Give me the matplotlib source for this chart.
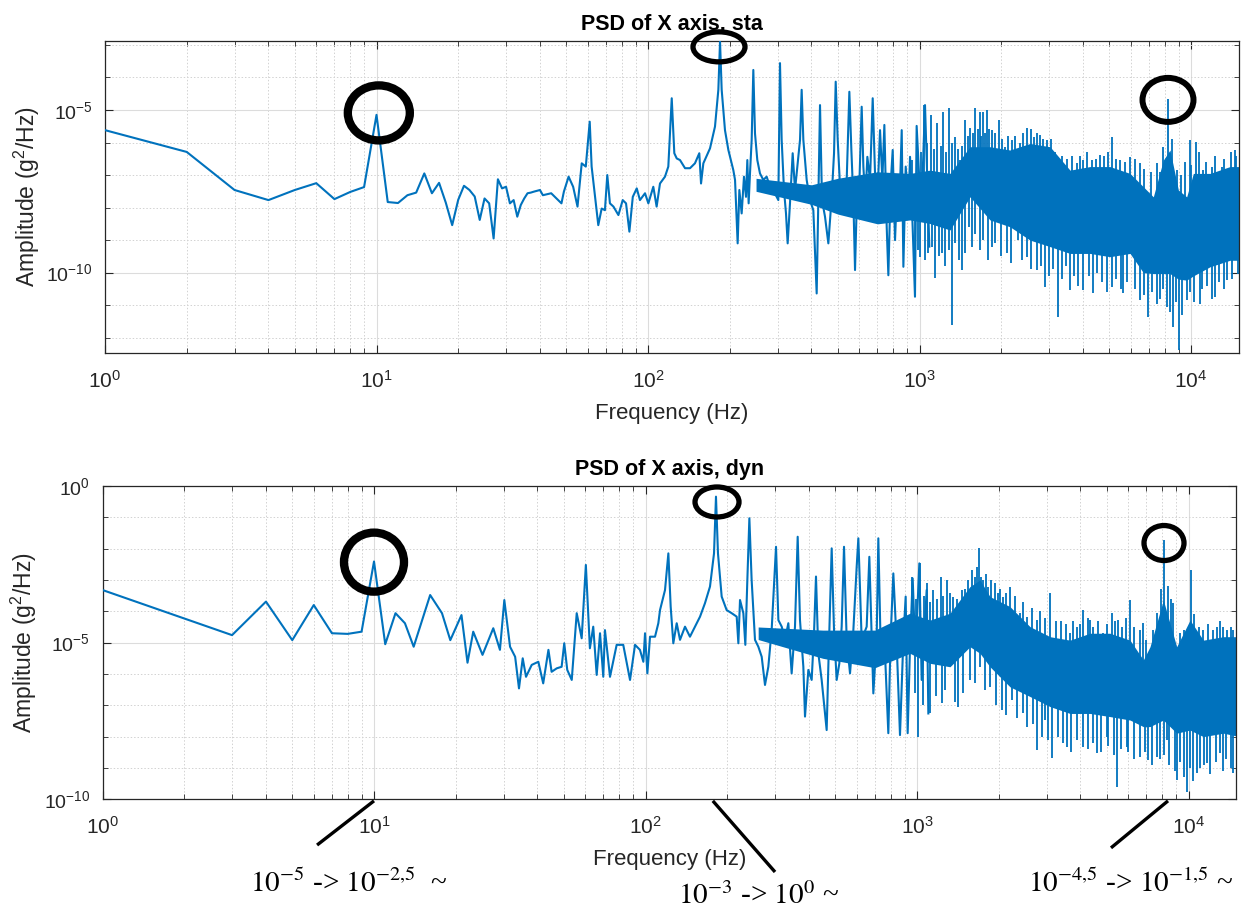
import numpy as np
import matplotlib.pyplot as plt
from matplotlib.patches import Ellipse
from matplotlib import transforms

plt.rcParams['font.family'] = 'Liberation Sans'
plt.rcParams['mathtext.fontset'] = 'custom'
plt.rcParams['mathtext.rm'] = 'Liberation Sans'
plt.rcParams['mathtext.it'] = 'Liberation Sans:italic'
plt.rcParams['mathtext.bf'] = 'Liberation Sans:bold'

LINE = '#0072BD'
AXC = '#262626'

# ---------------------------------------------------------------
# data : frequency in Hz, PSD given as log10(g^2/Hz)
# ---------------------------------------------------------------

# --- "sta" : trace, 1 Hz -> ~1.1 kHz
sta_f = [1, 2, 3, 4, 5, 6, 7, 8, 9, 10, 11, 12, 13, 14, 15, 16, 17, 18, 19, 20,
         21, 22, 23, 24, 25, 26, 27, 28, 29, 30, 31, 32, 33, 34, 35, 36, 37, 38, 40, 41,
         44, 46, 48, 49, 51, 53, 55, 57, 59, 61, 62, 65.6, 67.5, 69.4, 70.8, 72.4, 74.6, 77.8, 80.7, 83,
         85.4, 87.9, 90.9, 93.4, 97.5, 100.3, 104.6, 107.6, 110.7, 115.5, 118.8, 122.3, 125, 127.6, 131.2, 136.9, 142.8, 148.9, 154.5, 156.8,
         159.9, 169.2, 176.5, 181.6, 184.2, 186.8, 192.1, 197.7, 206.2, 209.2, 212.1, 213.9, 217, 221.3, 225.7, 229.6, 232.2, 234.8, 237.5, 240.9,
         244.3, 247.8, 252.7, 258.5, 265.9, 273.5, 281.4, 289.4, 297.8, 302, 306.3, 310.7, 316.9, 322.3, 326.9, 333.4, 341.1, 347.9, 354.8, 363,
         368.1, 373.4, 384.1, 395.1, 406.4, 418.1, 424.1, 430.1, 437.5, 448.7, 461.6, 474.9, 484.4, 491.3, 499.7, 509.7, 524.3, 539.3, 551.6, 561.1,
         570.7, 578.8, 590.4, 600.5, 612.4, 621.2, 631.8, 642.6, 657.3, 672.4, 685.8, 699.5, 715.5, 729.8, 742.3, 757.2, 767.9, 783.3, 796.7, 812.6,
         828.9, 843.1, 860, 872.2, 889.6, 910, 922.9, 943.5, 962.4, 976.1, 998.6, 1018.6, 1047.8, 1068.7, 1087]
sta_p = [-5.62, -6.29, -7.46, -7.77, -7.46, -7.25, -7.74, -7.52, -7.37, -5.15, -7.83, -7.86, -7.62, -7.54, -6.95, -7.56, -7.24, -7.85, -8.54, -7.76,
         -7.33, -7.46, -7.66, -8.38, -7.72, -7.87, -8.95, -7.13, -7.41, -7.36, -7.87, -7.77, -8.28, -7.92, -7.72, -7.56, -7.54, -7.51, -7.46, -7.62,
         -7.56, -7.72, -7.87, -7.51, -7.05, -7.36, -7.97, -6.64, -6.74, -5.36, -6.74, -8.54, -8.03, -8.08, -7.0, -7.87, -7.97, -8.23, -7.77, -7.87,
         -8.74, -7.67, -7.41, -7.77, -7.56, -7.87, -7.36, -7.97, -7.26, -7.05, -6.74, -4.64, -6.33, -6.49, -6.54, -6.79, -6.79, -6.64, -6.33, -7.26,
         -6.64, -6.18, -5.51, -4.38, -2.90, -4.38, -5.62, -6.23, -6.85, -7.15, -8.38, -9.10, -7.46, -8.18, -7.05, -7.67, -6.54, -7.87, -6.95, -5.92,
         -3.77, -5.72, -6.54, -6.95, -7.15, -7.05, -7.36, -7.46, -7.67, -7.77, -3.56, -5.92, -7.46, -8.18, -9.10, -7.87, -6.33, -7.46, -6.74, -5.92,
         -4.38, -5.92, -7.15, -7.77, -8.08, -10.64, -7.67, -4.85, -7.77, -8.28, -9.10, -7.67, -6.33, -4.13, -5.92, -7.36, -7.87, -7.15, -4.44, -6.23,
         -7.77, -9.92, -7.15, -7.26, -4.90, -6.74, -7.77, -6.44, -7.15, -4.64, -6.95, -7.77, -5.62, -7.15, -5.46, -8.59, -10.08, -7.26, -6.23, -9.00,
         -7.15, -7.97, -5.62, -9.82, -6.74, -7.97, -6.44, -8.59, -10.74, -5.49, -7.15, -7.87, -4.85, -7.15, -9.20]

# --- "sta" : dense part, drawn as a band (lower / upper edge of the solid core)
sta_band_f = [250, 400, 500, 700, 923, 1093, 1295, 1535, 1818, 2154, 2553, 3025, 3584, 4246,
              5030, 5962, 6673, 7265, 7909, 8368, 8983, 9640, 10200, 11750, 13920, 15140]
sta_band_lo = [-7.5, -7.9, -8.2, -8.5, -8.38, -8.49, -8.69, -7.67, -8.38, -8.59, -9.0, -9.2, -9.41, -9.41,
               -9.51, -9.41, -10.0, -10.03, -10.03, -10.03, -10.2, -10.23, -10.1, -9.82, -9.62, -9.62]
sta_band_hi = [-7.1, -7.3, -7.1, -6.9, -6.95, -6.85, -6.95, -6.13, -6.13, -6.23, -6.03, -6.13, -6.85, -6.74,
               -6.74, -6.95, -7.36, -7.67, -6.54, -6.23, -7.46, -7.67, -6.95, -6.95, -6.74, -6.74]

# --- "sta" : spikes above / below the band
sta_up_f = [936, 976, 1039, 1099, 1163, 1224, 1288, 1351, 1410, 1471, 1535, 1601, 1670, 1718, 1778,
            1845, 1968, 2065, 2185, 2346, 2496, 2641, 2779, 2941, 3246, 3793, 4013, 4306, 4622, 5104,
            5477, 5962, 6489, 7472, 7909, 8204, 8855, 9916, 10433, 11102, 11916, 12970, 14521,
            1010, 1065, 1130, 1195, 1255, 1320, 1385, 1440, 1505, 1570, 1640, 1690, 1745, 1810, 1900, 2010,
            2120, 2250, 2400, 2570, 2710, 2860, 3050, 3150, 3350, 3480, 3650, 3900, 4150, 4450, 4800, 4950,
            5300, 5700, 6200, 6700, 7100, 7700, 8500, 9200, 9500, 10000, 10700, 11400, 12300, 13200, 14000, 14700]
sta_up_p = [-6.54, -5.82, -4.85, -5.15, -5.41, -5.05, -4.95, -5.82, -6.54, -5.31, -5.56, -4.95, -5.05, -5.05, -5.0,
            -5.62, -5.31, -6.13, -5.92, -6.03, -5.56, -5.82, -5.77, -5.92, -6.54, -6.64, -6.54, -6.54, -6.38, -5.82,
            -6.54, -6.44, -6.64, -6.64, -6.13, -4.67, -6.85, -5.92, -5.97, -6.85, -6.74, -6.74, -6.23,
            -6.3, -6.0, -6.2, -6.1, -6.3, -6.0, -6.2, -6.1, -5.8, -5.7, -5.6, -5.8, -5.7, -5.6, -5.7, -5.9,
            -5.8, -5.8, -5.7, -5.6, -5.7, -5.9, -5.9, -6.3, -6.4, -6.5, -6.4, -6.4, -6.3, -6.5, -6.4, -6.3,
            -6.5, -6.6, -6.5, -6.8, -6.9, -6.9, -5.9, -7.0, -6.6, -6.7, -6.3, -6.6, -6.4, -6.5, -6.3, -6.4]
sta_dn_f = [963, 1004, 1078, 1140, 1206, 1314, 1430, 1556, 1670, 1845, 2095, 2312, 2481, 2701, 2899, 3228,
            3584, 4013, 4368, 5104, 5633, 6489, 6962, 7472, 8135, 8609, 9058, 9640, 10793, 12254, 13529, 14937,
            990, 1050, 1110, 1175, 1240, 1280, 1350, 1400, 1470, 1520, 1600, 1720, 1790, 1900, 1990, 2180,
            2380, 2580, 2800, 3000, 3100, 3350, 3450, 3700, 3850, 4200, 4500, 4700, 4900, 5300, 5500, 5800,
            6200, 6700, 7200, 7700, 7900, 8350, 8800, 9300, 9900, 10300, 11000, 11500, 12000, 12700, 13200, 14200]
sta_dn_p = [-10.74, -9.51, -9.41, -10.18, -9.41, -11.62, -9.92, -9.20, -9.31, -9.20, -9.41, -9.0, -9.51, -9.92, -10.44, -11.36,
            -10.54, -10.54, -10.64, -10.44, -10.64, -10.85, -11.36, -10.95, -11.05, -11.67, -12.38, -10.85, -10.95, -10.74, -10.23, -10.03,
            -9.3, -9.6, -9.2, -9.5, -9.8, -9.3, -9.1, -9.6, -9.4, -8.6, -8.8, -9.0, -9.6, -9.1, -9.5, -9.7,
            -9.6, -9.9, -9.8, -10.1, -9.9, -10.2, -9.8, -10.1, -10.4, -10.1, -10.0, -10.3, -10.6, -10.2, -10.5, -10.3,
            -10.5, -10.7, -10.6, -10.8, -10.5, -11.2, -10.9, -11.3, -10.6, -10.9, -10.5, -10.4, -10.8, -10.3, -10.5, -10.2]

# --- "dyn" : trace, 1 Hz -> ~1.1 kHz
dyn_f = [1, 3, 4, 5, 6, 7, 8, 9, 10, 11, 12, 13, 14, 16.1, 17.8, 19.1, 21, 22.1, 23.2, 25.1,
         27.5, 29.1, 30.2, 31.7, 33.1, 34.2, 35.3, 36.3, 38.1, 40.3, 42, 43.9, 45.1, 47.1, 49.1, 50.2, 51.5, 53.5, 55.8, 58.2,
         60.3, 62.4, 64.2, 66.1, 68, 69.9, 70.9, 74, 78.3, 82.8, 87.7, 91.5, 95.4, 98.2, 99.6, 101.6, 103.9, 108.4, 111.5, 113.1,
         118, 121.4, 123.8, 126.6, 130.3, 134, 139.8, 145.8, 152.2, 158.8, 165.6, 172.8, 178.8, 181.8, 184.9, 190.8, 199, 207.7, 216.7, 219.8,
         222.9, 229.3, 233.2, 237.2, 241.3, 246, 253.1, 260.4, 267.9, 275.5, 283.4, 291.5, 302.5, 308.6, 317.5, 326.5, 335.8, 345.4, 355.3, 363.5,
         370.7, 381.4, 386.8, 397.9, 409.3, 417.5, 424.6, 433.1, 445.5, 464.8, 471.4, 485, 494.7, 506, 517.6, 527.9, 538.5, 550.8, 566.6, 582.9,
         599.6, 608.1, 625.5, 652.6, 667.5, 690.5, 710.3, 720.4, 734.8, 762.3, 784.1, 799.8, 818.1, 841.6, 865.7, 890.6, 908.4, 923.9, 942.4, 964,
         983.2, 997.2, 1020, 1040.4, 1085.5, 1101]
dyn_p = [-3.32, -4.76, -3.69, -4.92, -3.80, -4.70, -4.72, -4.65, -2.41, -5.05, -4.06, -4.38, -5.13, -3.48, -4.06, -4.92, -4.12, -5.64, -4.65, -5.39,
         -4.54, -5.23, -3.64, -5.13, -5.45, -6.46, -5.50, -6.09, -5.71, -5.61, -6.30, -5.23, -5.93, -5.82, -5.77, -5.02, -5.87, -6.19, -4.06, -4.86,
         -2.52, -5.18, -4.49, -6.03, -4.70, -6.09, -4.60, -6.09, -5.07, -5.07, -6.19, -5.07, -5.23, -5.61, -4.70, -5.98, -4.81, -4.81, -4.38, -3.96,
         -3.32, -2.15, -3.85, -5.02, -4.38, -4.91, -4.49, -4.81, -4.49, -4.17, -3.74, -3.21, -2.15, -0.34, -2.15, -3.53, -3.96, -4.06, -4.17, -5.02,
         -3.64, -4.06, -5.07, -3.00, -1.03, -3.00, -4.91, -5.13, -5.45, -6.35, -5.77, -4.60, -1.94, -4.28, -4.49, -4.91, -4.38, -5.98, -4.49, -1.62,
         -4.28, -5.77, -7.36, -5.87, -6.19, -4.70, -2.89, -5.34, -6.19, -7.79, -5.77, -1.99, -4.60, -6.19, -5.66, -4.49, -1.94, -4.91, -5.98, -4.60,
         -2.57, -1.67, -4.91, -4.49, -2.26, -6.62, -4.81, -1.67, -5.13, -5.34, -7.89, -4.81, -2.79, -5.02, -7.95, -4.91, -3.53, -7.89, -5.13, -2.95,
         -5.02, -4.49, -2.47, -6.19, -3.32, -7.26]

dyn_band_f = [260, 450, 700, 942, 1117, 1323, 1567, 1706, 1857, 2200, 2608, 3090, 3661, 4337,
              5139, 6088, 6818, 7214, 8078, 9045, 10127, 11341, 13436, 15480]
dyn_band_lo = [-4.9, -5.5, -5.8, -5.34, -5.66, -5.77, -5.13, -5.34, -5.77, -6.41, -6.72, -7.04, -7.26, -7.26,
               -7.36, -7.47, -7.68, -7.68, -7.47, -7.89, -7.79, -8.0, -7.89, -8.0]
dyn_band_hi = [-4.5, -4.6, -4.6, -4.06, -4.28, -4.06, -3.21, -3.0, -3.53, -3.85, -4.49, -4.81, -4.92, -4.70,
               -4.70, -4.92, -5.55, -5.13, -3.64, -5.13, -4.28, -4.92, -4.81, -4.81]

dyn_up_f = [956, 1026, 1085, 1148, 1222, 1286, 1361, 1460, 1590, 1635, 1697, 1755, 1831, 1994, 2068,
            2200, 2395, 2550, 2760, 3090, 3661, 3873, 4101, 4337, 4857, 5212, 5516, 6088, 6818, 7634,
            8124, 8793, 9305, 10186, 11341, 12347, 13436, 14627,
            990, 1060, 1120, 1180, 1250, 1320, 1400, 1500, 1540, 1660, 1720, 1790, 1870, 1930, 2030, 2120,
            2300, 2450, 2650, 2850, 2950, 3250, 3400, 3550, 3750, 4000, 4250, 4450, 4650, 5000, 5350, 5700,
            5900, 6300, 6600, 7000, 7400, 7900, 8400, 8600, 9600, 10500, 10900, 11800, 12700, 13100, 13900, 14300]
dyn_up_p = [-2.89, -2.47, -3.11, -3.32, -2.89, -3.0, -3.53, -3.32, -2.68, -2.89, -1.99, -3.0, -3.21, -3.43, -3.53,
            -3.21, -4.06, -4.17, -4.28, -3.43, -4.70, -4.49, -3.96, -4.28, -4.70, -4.06, -4.28, -3.64, -4.38, -4.06,
            -1.72, -3.74, -4.70, -2.68, -4.60, -4.60, -4.49, -4.60,
            -3.6, -3.5, -3.7, -3.6, -3.5, -3.4, -3.6, -3.3, -3.0, -2.6, -2.9, -2.8, -3.0, -3.1, -3.3, -3.4,
            -3.5, -3.7, -3.9, -4.0, -4.2, -4.3, -4.3, -4.4, -4.3, -4.4, -4.2, -4.5, -4.3, -4.4, -4.3, -4.5,
            -4.2, -4.5, -4.6, -4.9, -4.6, -3.3, -3.2, -3.6, -4.6, -4.1, -4.5, -4.4, -4.5, -4.3, -4.6, -4.5]
dyn_dn_f = [1011, 1117, 1233, 1420, 1567, 1706, 1857, 2051, 2232, 2465, 2760, 2961, 3134, 3559, 4101,
            4589, 4995, 5438, 5920, 6628, 7112, 7634, 8309, 9045, 9845, 10718, 11665, 13062, 14627,
            980, 1050, 1170, 1270, 1380, 1480, 1630, 1780, 1950, 2130, 2330, 2550, 2680, 2880, 3050,
            3300, 3450, 3700, 3900, 4250, 4450, 4750, 5050, 5300, 5650, 6000, 6300, 6900, 7350, 7850,
            8150, 8500, 8900, 9300, 9600, 10100, 10400, 11000, 11400, 12000, 12600, 13400, 13800, 14300]
dyn_dn_p = [-8.0, -7.26, -6.94, -7.04, -6.19, -5.77, -6.41, -7.15, -6.83, -7.26, -8.43, -7.47, -8.69, -8.32, -8.32,
            -8.53, -8.0, -9.6, -8.32, -8.64, -8.75, -8.64, -8.11, -9.38, -9.76, -9.17, -8.85, -8.53, -9.17,
            -6.6, -7.0, -6.7, -6.5, -6.9, -6.6, -6.3, -6.5, -7.0, -7.3, -7.4, -7.7, -7.6, -8.0, -8.1,
            -8.0, -8.2, -8.5, -8.1, -8.4, -8.2, -8.5, -8.3, -8.6, -8.4, -8.5, -8.7, -8.5, -8.9, -8.7,
            -8.6, -8.9, -9.1, -8.8, -9.3, -9.0, -9.4, -9.0, -8.9, -9.2, -8.8, -9.1, -8.7, -9.0]

# circled peaks : (Hz, log10 PSD, width px, height px, line width pt)
sta_circles = [(10.2, -5.09, 62, 55, 6), (182.6, -3.06, 52, 30, 3.8), (8228, -4.69, 51, 44, 4.3)]
dyn_circles = [(10.0, -2.43, 60, 59, 6), (183.4, -0.51, 44, 30, 3.8), (8124, -1.82, 40, 35, 3.8)]

# hand-written notes under the lower plot : text, line start Hz, line end Hz, line end y, text Hz, text y
notes = [(r"$10^{-5}$ -> $10^{-2{,}5}$  ~", 10, 6.17, -0.146, 3.49, -0.27),
         (r"$10^{-3}$ -> $10^{0}$ ~", 177, 300, -0.232, 131.7, -0.31),
         (r"$10^{-4{,}5}$ -> $10^{-1{,}5}$ ~", 8404, 5183, -0.155, 2563, -0.27)]


def draw_psd(ax, f, p, bf, blo, bhi, uf, up, df, dp):
    blo, bhi = np.array(blo), np.array(bhi)
    mid = (blo + bhi) / 2
    lbf = np.log10(bf)
    ax.fill_between(bf, 10.0 ** blo, 10.0 ** bhi, color=LINE, lw=0, zorder=2)
    base_u = np.interp(np.log10(uf), lbf, mid)
    base_d = np.interp(np.log10(df), lbf, mid)
    ax.vlines(uf, 10.0 ** base_u, 10.0 ** np.array(up), color=LINE, lw=1.3, zorder=2)
    ax.vlines(df, 10.0 ** np.array(dp), 10.0 ** base_d, color=LINE, lw=1.3, zorder=2)
    ax.plot(f, 10.0 ** np.array(p), color=LINE, lw=1.5, zorder=3)


def style_axes(ax, title, ylim, yticks):
    ax.set_xscale('log')
    ax.set_yscale('log')
    ax.set_xlim(1, 15000)
    ax.set_ylim(*ylim)
    ax.set_xticks([1, 10, 100, 1000, 10000])
    ax.set_xticks([m * 10 ** d for d in range(0, 5) for m in range(2, 10) if m * 10 ** d < 15000], minor=True)
    ax.set_yticks(yticks)
    lo, hi = np.log10(ylim)
    ax.set_yticks([10.0 ** k for k in range(int(np.floor(lo)), int(np.ceil(hi)) + 1)
                   if ylim[0] <= 10.0 ** k <= ylim[1]], minor=True)
    ax.yaxis.set_minor_formatter(plt.NullFormatter())
    ax.xaxis.set_minor_formatter(plt.NullFormatter())
    ax.tick_params(which='both', direction='in', top=True, right=True, colors=AXC)
    ax.tick_params(axis='x', labelsize=15, pad=12)
    ax.tick_params(axis='y', labelsize=14, pad=9)
    ax.tick_params(which='major', length=6, width=0.8)
    ax.tick_params(which='minor', length=3.5, width=0.6)
    ax.grid(True, which='major', color='#dcdcdc', lw=0.8, ls='-')
    ax.grid(True, which='minor', color='#d2d2d2', lw=0.7, ls=(0, (1.5, 2)))
    ax.set_axisbelow(True)
    for s in ax.spines.values():
        s.set_color(AXC)
        s.set_linewidth(0.9)
    ax.set_title(title, fontsize=15.5, fontweight='bold', pad=8, color='black')
    ax.set_xlabel('Frequency (Hz)', fontsize=16, color=AXC, labelpad=8)
    ax.set_ylabel(r'Amplitude (g$^2$/Hz)', fontsize=16.5, color=AXC, labelpad=3)


def add_circles(fig, ax, circles):
    for f, p, w, h, lw in circles:
        cx, cy = ax.transData.transform((f, 10.0 ** p))
        fig.add_artist(Ellipse((cx, cy), w, h, transform=transforms.IdentityTransform(),
                               fill=False, ec='black', lw=lw, zorder=10))


fig = plt.figure(figsize=(12.45, 9.17), dpi=100)
W, H = 1245, 917
ax1 = fig.add_axes([105 / W, 1 - 353 / H, 271.5 * np.log10(15000) / W, 312 / H])
ax2 = fig.add_axes([102.5 / W, 1 - 799.3 / H, 271.5 * np.log10(15000) / W, 313.3 / H])

draw_psd(ax1, sta_f, sta_p, sta_band_f, sta_band_lo, sta_band_hi, sta_up_f, sta_up_p, sta_dn_f, sta_dn_p)
draw_psd(ax2, dyn_f, dyn_p, dyn_band_f, dyn_band_lo, dyn_band_hi, dyn_up_f, dyn_up_p, dyn_dn_f, dyn_dn_p)

style_axes(ax1, 'PSD of X axis, sta', (10 ** -12.47, 10 ** -2.88), [1e-10, 1e-5])
style_axes(ax2, 'PSD of X axis, dyn', (1e-10, 1), [1e-10, 1e-5, 1])

add_circles(fig, ax1, sta_circles)
add_circles(fig, ax2, dyn_circles)

tr = transforms.blended_transform_factory(ax2.transData, ax2.transAxes)
for txt, f0, f1, y1, ft, yt in notes:
    ax2.plot([f0, f1], [-0.005, y1], color='black', lw=2.4, transform=tr, clip_on=False,
             solid_capstyle='butt', zorder=10)
    ax2.text(ft, yt, txt, transform=tr, ha='left', va='center', fontsize=21,
             family='Liberation Serif', math_fontfamily='stix', color='black')

fig.savefig('out.png', dpi=100)
